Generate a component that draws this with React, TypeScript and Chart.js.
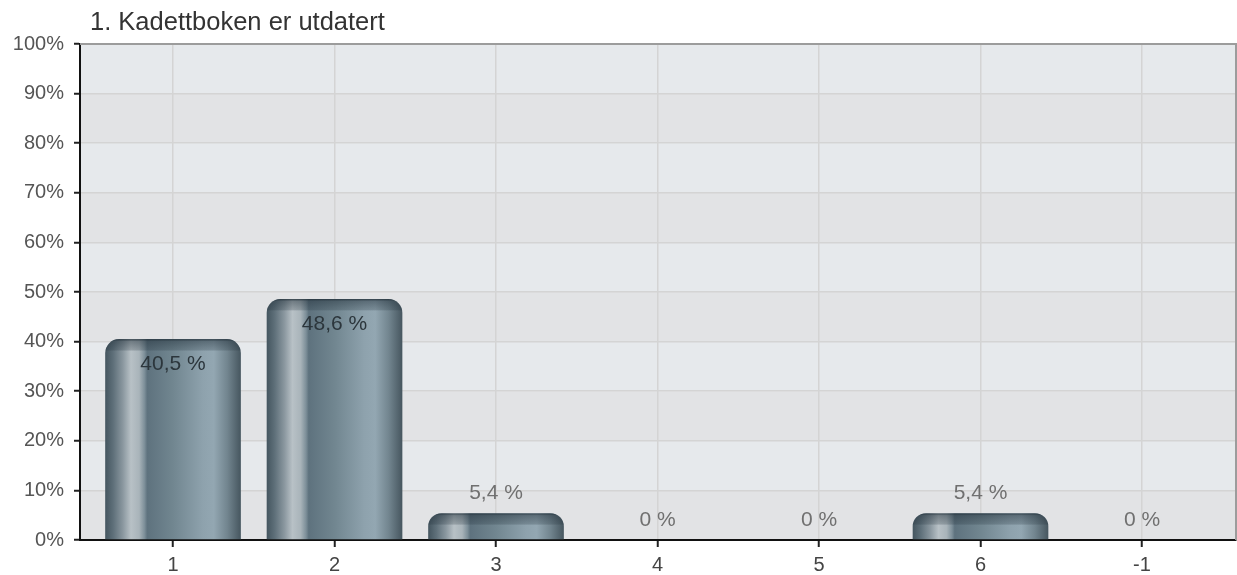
import React, { useEffect, useRef } from 'react';
import { Chart, registerables } from 'chart.js';

Chart.register(...registerables);

// ---- data ----
const chartTitle = '1. Kadettboken er utdatert';
const categories = ['1', '2', '3', '4', '5', '6', '-1'];
const percentages = [40.5, 48.6, 5.4, 0, 0, 5.4, 0];
const yTickValues = [0, 10, 20, 30, 40, 50, 60, 70, 80, 90, 100];

// ---- styling ----
const FONT = '"Liberation Sans", Arial, Helvetica, sans-serif';
const BAR_FRACTION = 0.84;
const CORNER = 14;

// horizontal "brushed metal" shading across each bar
const metalStops: [number, string][] = [
  [0, '#44555f'],
  [0.06, '#5f707a'],
  [0.13, '#8a979f'],
  [0.19, '#b8c1c6'],
  [0.25, '#a9b4ba'],
  [0.29, '#7d8f99'],
  [0.31, '#5e727e'],
  [0.5, '#718690'],
  [0.72, '#8ea2ad'],
  [0.8, '#93a7b2'],
  [0.9, '#72858f'],
  [1, '#46565f'],
];

const bandColors = ['#e6e9ec', '#e2e3e5'];

function barBounds(chart: any, index: number): [number, number] {
  const xs = chart.scales.x;
  const step = Math.abs(xs.getPixelForValue(1) - xs.getPixelForValue(0));
  const c = xs.getPixelForValue(index);
  const half = (step * BAR_FRACTION) / 2;
  return [c - half, c + half];
}

function formatPct(v: number): string {
  return String(v).replace('.', ',') + ' %';
}

function roundedTopPath(ctx: CanvasRenderingContext2D, l: number, r: number, top: number, base: number) {
  const h = base - top;
  const rad = Math.min(CORNER, h, (r - l) / 2);
  ctx.beginPath();
  ctx.moveTo(l, base);
  ctx.lineTo(l, top + rad);
  ctx.arcTo(l, top, l + rad, top, rad);
  ctx.lineTo(r - rad, top);
  ctx.arcTo(r, top, r, top + rad, rad);
  ctx.lineTo(r, base);
  ctx.closePath();
}

// alternating horizontal bands behind the plot
const plotBackground = {
  id: 'plotBackground',
  beforeDraw(chart: any) {
    const { ctx, chartArea } = chart;
    const ys = chart.scales.y;
    ctx.save();
    for (let i = 0; i < yTickValues.length - 1; i++) {
      const hi = yTickValues[yTickValues.length - 1 - i];
      const lo = yTickValues[yTickValues.length - 2 - i];
      const t = ys.getPixelForValue(hi);
      const b = ys.getPixelForValue(lo);
      ctx.fillStyle = bandColors[i % 2];
      ctx.fillRect(chartArea.left, t, chartArea.right - chartArea.left, b - t);
    }
    ctx.restore();
  },
};

// cap shading, value labels, frame and title
const decorations = {
  id: 'decorations',
  afterDatasetsDraw(chart: any) {
    const { ctx } = chart;
    const ys = chart.scales.y;
    const xs = chart.scales.x;
    const base = ys.getPixelForValue(0);
    ctx.save();
    percentages.forEach((v, i) => {
      const top = ys.getPixelForValue(v);
      const [l, r] = barBounds(chart, i);
      if (base - top > 1) {
        ctx.save();
        roundedTopPath(ctx, l, r, top, base);
        ctx.clip();
        const g = ctx.createLinearGradient(0, top, 0, top + 12);
        g.addColorStop(0, 'rgba(30,44,54,0.85)');
        g.addColorStop(0.2, 'rgba(30,44,54,0.45)');
        g.addColorStop(0.9, 'rgba(30,44,54,0.22)');
        g.addColorStop(1, 'rgba(30,44,54,0)');
        ctx.fillStyle = g;
        ctx.fillRect(l, top, r - l, 12);
        ctx.restore();
      }
    });
    ctx.font = `21px ${FONT}`;
    ctx.textAlign = 'center';
    ctx.textBaseline = 'middle';
    percentages.forEach((v, i) => {
      const x = xs.getPixelForValue(i);
      const top = ys.getPixelForValue(v);
      const inside = v >= 20;
      ctx.fillStyle = inside ? '#2c363c' : '#707070';
      ctx.fillText(formatPct(v), x, inside ? top + 25 : top - 20);
    });
    ctx.restore();
  },
  afterDraw(chart: any) {
    const { ctx, chartArea } = chart;
    ctx.save();
    ctx.strokeStyle = '#9c9c9c';
    ctx.lineWidth = 2;
    ctx.beginPath();
    ctx.moveTo(chartArea.left, chartArea.top);
    ctx.lineTo(chartArea.right, chartArea.top);
    ctx.lineTo(chartArea.right, chartArea.bottom);
    ctx.stroke();
    ctx.font = `25.5px ${FONT}`;
    ctx.fillStyle = '#333333';
    ctx.textAlign = 'left';
    ctx.textBaseline = 'middle';
    ctx.fillText(chartTitle, chartArea.left + 10, 23);
    ctx.restore();
  },
};

export default function App() {
  const canvasRef = useRef<HTMLCanvasElement | null>(null);

  useEffect(() => {
    const canvas = canvasRef.current;
    if (!canvas) return;
    const chart = new Chart(canvas, {
      type: 'bar',
      data: {
        datasets: [
          {
            data: percentages.map((v, i) => ({ x: i, y: v })),
            backgroundColor: (c: any) => {
              const ch = c.chart;
              if (!ch.chartArea || !ch.scales.x || c.dataIndex === undefined) return '#6f8590';
              const [l, r] = barBounds(ch, c.dataIndex);
              const g = ch.ctx.createLinearGradient(l, 0, r, 0);
              metalStops.forEach(([o, col]) => g.addColorStop(o, col));
              return g;
            },
            borderWidth: 0,
            borderRadius: { topLeft: CORNER, topRight: CORNER, bottomLeft: 0, bottomRight: 0 },
            borderSkipped: 'start',
            barPercentage: BAR_FRACTION,
            categoryPercentage: 1,
          } as any,
        ],
      },
      options: {
        responsive: false,
        animation: false,
        events: [],
        layout: { padding: { top: 44, right: 1, left: 0, bottom: 0 } },
        plugins: {
          legend: { display: false },
          title: { display: false },
          tooltip: { enabled: false },
        },
        scales: {
          x: {
            type: 'linear',
            offset: false,
            min: -0.576,
            max: 6.582,
            afterBuildTicks: (s: any) => {
              s.ticks = categories.map((_, i) => ({ value: i }));
            },
            afterFit: (s: any) => {
              s.height = 35;
            },
            ticks: {
              callback: (v: any) => categories[v] ?? '',
              font: { family: FONT, size: 20 },
              color: '#444444',
              padding: 6,
              maxRotation: 0,
              autoSkip: false,
            },
            grid: {
              color: '#d4d4d4',
              lineWidth: 1.5,
              tickLength: 7,
              tickColor: '#222222',
              tickWidth: 2,
              offset: false,
            },
            border: { color: '#111111', width: 2 },
          },
          y: {
            min: 0,
            max: 100,
            afterBuildTicks: (s: any) => {
              s.ticks = yTickValues.map((v) => ({ value: v }));
            },
            afterFit: (s: any) => {
              s.width = 80;
            },
            ticks: {
              callback: (v: any) => `${v}%`,
              font: { family: FONT, size: 20 },
              color: '#555555',
              padding: 10,
            },
            grid: {
              color: '#d4d4d4',
              lineWidth: 1.5,
              tickLength: 6,
              tickColor: '#222222',
              tickWidth: 2,
            },
            border: { color: '#111111', width: 2 },
          },
        },
      } as any,
      plugins: [plotBackground, decorations],
    });
    return () => chart.destroy();
  }, []);

  return (
    <div style={{ position: 'absolute', left: 0, top: 0, width: 1237, height: 575, background: '#ffffff' }}>
      <canvas ref={canvasRef} width={1237} height={575} style={{ display: 'block', width: 1237, height: 575 }} />
    </div>
  );
}
